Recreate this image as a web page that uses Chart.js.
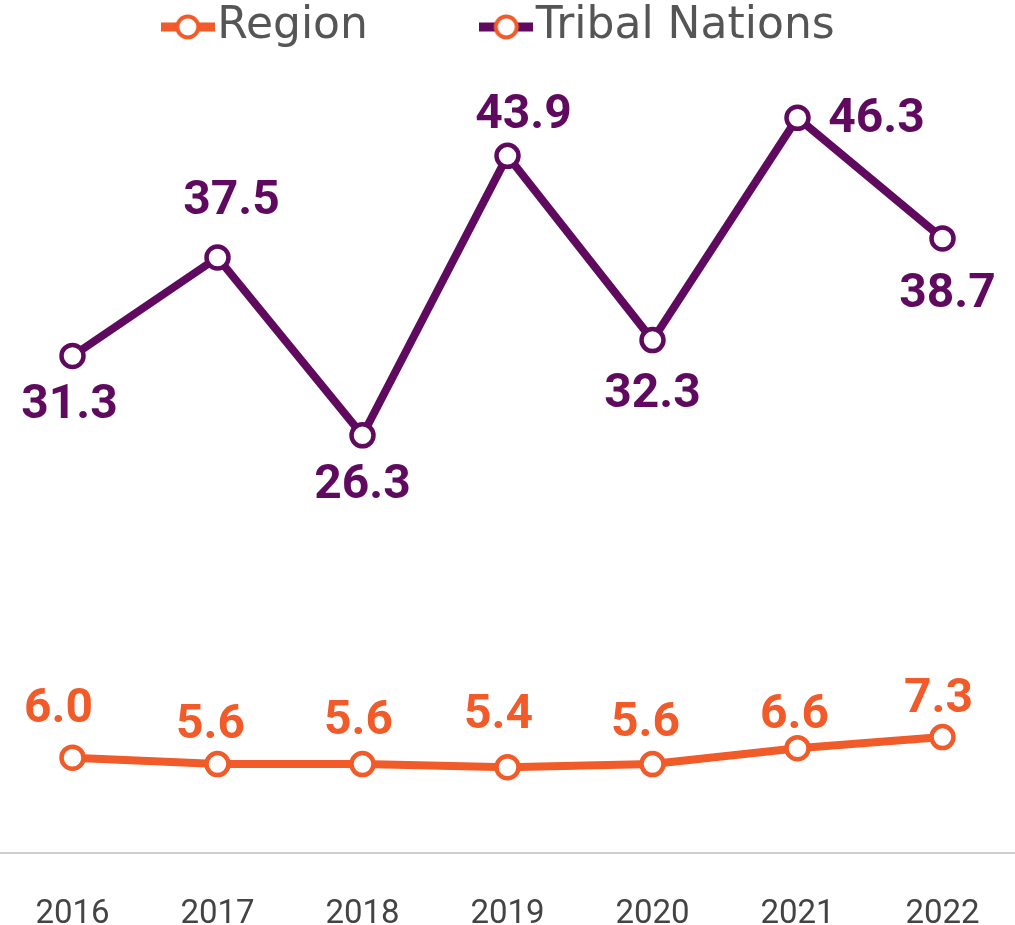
<!DOCTYPE html>
<html>
<head>
<meta charset="utf-8">
<script src="https://cdn.jsdelivr.net/npm/chart.js@4"></script>
<style>
  html, body { margin: 0; padding: 0; background: #fff; }
  #wrap { width: 1015px; height: 925px; position: relative; }
</style>
</head>
<body>
<div id="wrap"><canvas id="chart"></canvas></div>
<script>
// data
var years = ["2016", "2017", "2018", "2019", "2020", "2021", "2022"];
var regionValues = [6.0, 5.6, 5.6, 5.4, 5.6, 6.6, 7.3];
var tribalValues = [31.3, 37.5, 26.3, 43.9, 32.3, 46.3, 38.7];

var orange = '#F15A29';
var purple = '#5F0A5F';

// where each value label sits relative to its point (dx, dy)
var regionLabelOffsets = [[-14, -48], [-7, -38], [-4, -42], [-9, -51], [-7, -40], [-3, -32], [-4, -37]];
var tribalLabelOffsets = [[-3, 50], [14, -56], [0, 51], [16, -40], [0, 55], [79, 2], [5, 57]];

// legend marker: line with a hollow circle
function makeMarker(lineColor, circleColor) {
    var c = document.createElement('canvas');
    c.width = 54;
    c.height = 30;
    var g = c.getContext('2d');
    g.strokeStyle = lineColor;
    g.lineWidth = 9;
    g.beginPath();
    g.moveTo(0, 15);
    g.lineTo(54, 15);
    g.stroke();
    g.beginPath();
    g.arc(27, 15, 10.5, 0, Math.PI * 2);
    g.fillStyle = '#fff';
    g.fill();
    g.lineWidth = 4;
    g.strokeStyle = circleColor;
    g.stroke();
    return c;
}
var legendMarks = [makeMarker(orange, orange), makeMarker(purple, orange)];

var valueLabels = {
    id: 'valueLabels',
    afterDatasetsDraw: function (chart) {
        var ctx = chart.ctx;
        chart.data.datasets.forEach(function (ds, i) {
            var meta = chart.getDatasetMeta(i);
            meta.data.forEach(function (pt, j) {
                var off = ds.labelOffsets[j];
                ctx.save();
                ctx.font = 'bold 48px Roboto';
                ctx.fillStyle = ds.borderColor;
                ctx.textAlign = 'center';
                ctx.textBaseline = 'middle';
                ctx.fillText(ds.data[j].toFixed(1), pt.x + off[0], pt.y + off[1]);
                ctx.restore();
            });
        });
    }
};

var ctx = document.getElementById('chart').getContext('2d');
var chart = new Chart(ctx, {
    type: 'line',
    data: {
        labels: years,
        datasets: [{
            label: 'Region',
            data: regionValues,
            borderColor: orange,
            backgroundColor: '#fff',
            borderWidth: 8,
            pointRadius: 11,
            pointBorderWidth: 4.5,
            pointBackgroundColor: '#fff',
            pointBorderColor: orange,
            labelOffsets: regionLabelOffsets
        }, {
            label: 'Tribal Nations',
            data: tribalValues,
            borderColor: purple,
            backgroundColor: '#fff',
            borderWidth: 8,
            pointRadius: 11,
            pointBorderWidth: 4.5,
            pointBackgroundColor: '#fff',
            pointBorderColor: purple,
            labelOffsets: tribalLabelOffsets
        }]
    },
    options: {
        responsive: true,
        maintainAspectRatio: false,
        animation: false,
        layout: { padding: 0, autoPadding: false },
        plugins: {
            tooltip: { enabled: false },
            legend: {
                position: 'top',
                labels: {
                    usePointStyle: true,
                    pointStyleWidth: 15,
                    padding: 5,
                    color: '#555',
                    font: { family: 'DejaVu Sans', size: 44 },
                    generateLabels: function (chart) {
                        return chart.data.datasets.map(function (ds, i) {
                            return {
                                text: ds.label + (i === 0 ? '\u00A0'.repeat(9) : ''),
                                pointStyle: legendMarks[i],
                                fontColor: '#555',
                                fillStyle: 'transparent',
                                strokeStyle: 'transparent',
                                lineWidth: 0,
                                hidden: false,
                                datasetIndex: i
                            };
                        });
                    }
                }
            }
        },
        scales: {
            x: {
                offset: true,
                grid: { display: false },
                border: { display: true, color: '#cfcfcf', width: 2 },
                ticks: {
                    color: '#444',
                    padding: 34,
                    font: { family: 'Roboto', size: 33 }
                },
                afterFit: function (scale) { scale.height = 72; }
            },
            y: {
                display: false,
                min: 0,
                max: 50
            }
        }
    },
    plugins: [valueLabels]
});
</script>
</body>
</html>
